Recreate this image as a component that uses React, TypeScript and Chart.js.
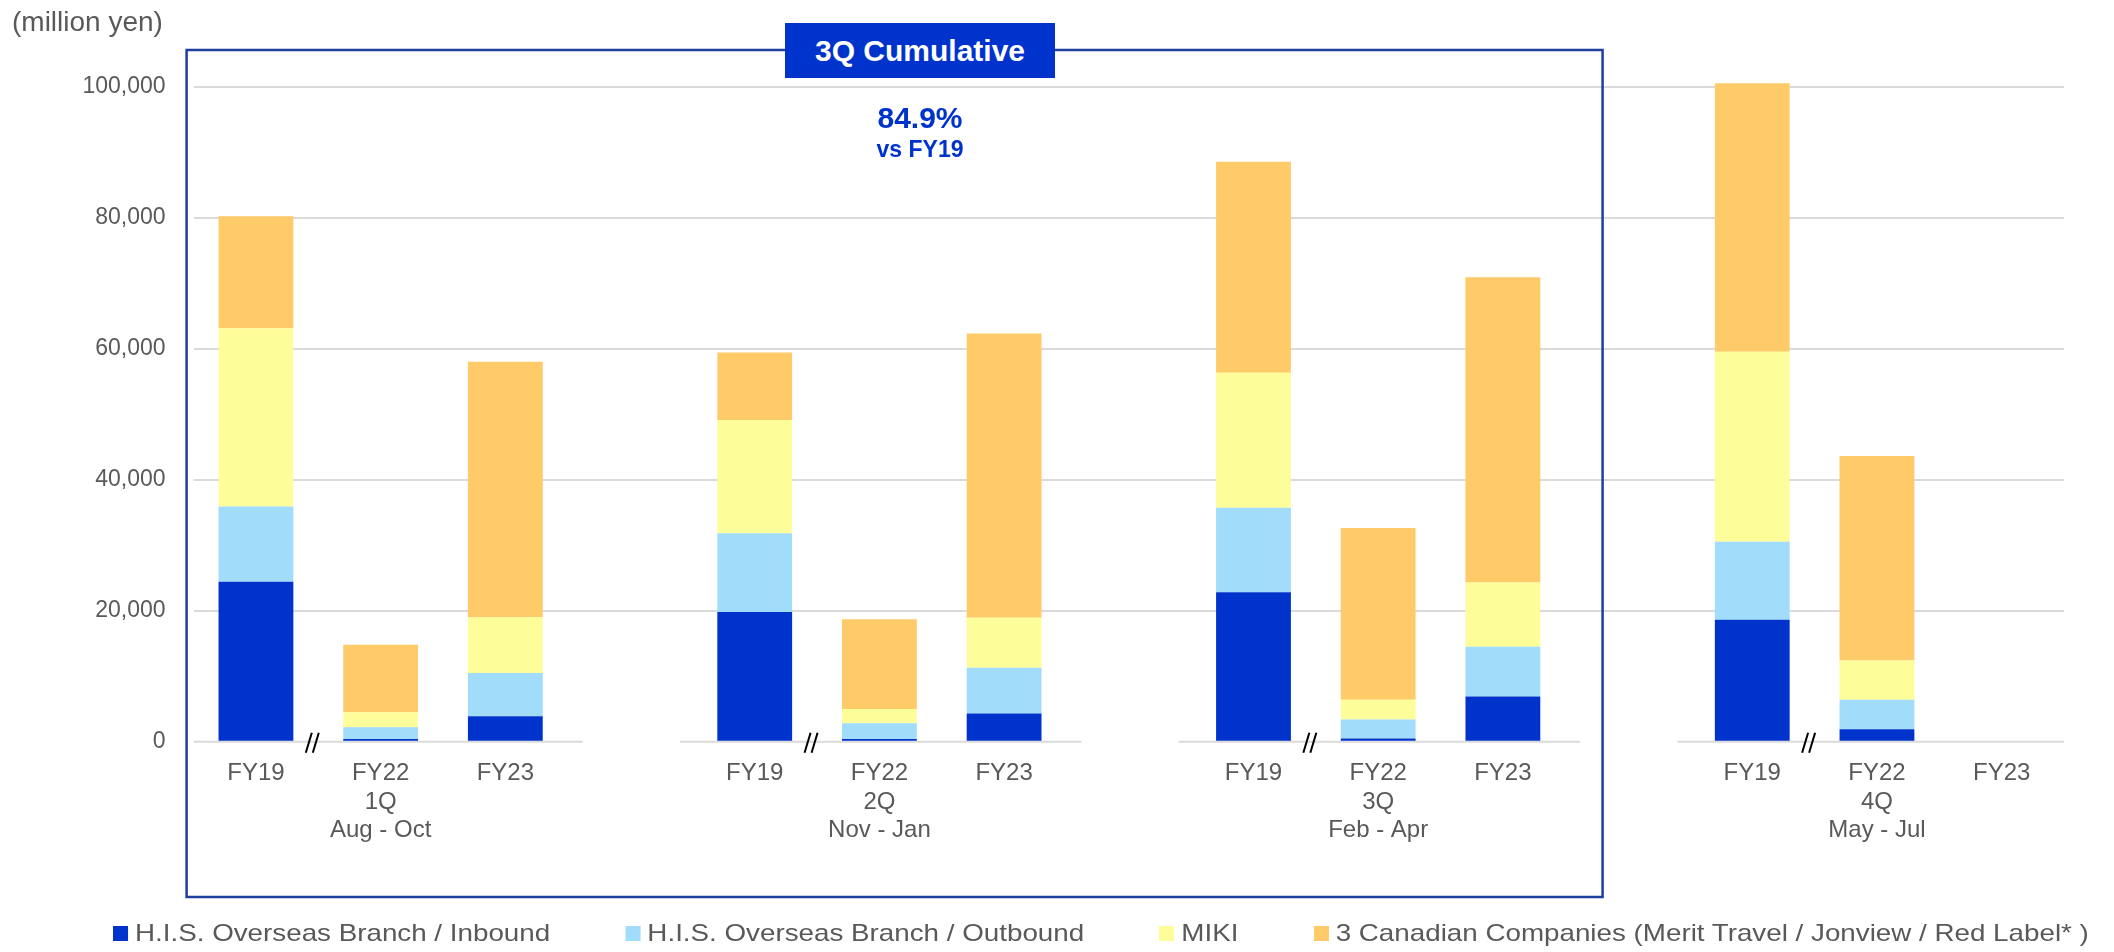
import React, { useEffect, useRef } from "react";
import { Chart, registerables } from "chart.js";

Chart.register(...registerables);

// ---------- data ----------
const categories: (string | string[])[] = [
  ["FY19"], ["FY22", "1Q", "Aug - Oct"], ["FY23"], "",
  ["FY19"], ["FY22", "2Q", "Nov - Jan"], ["FY23"], "",
  ["FY19"], ["FY22", "3Q", "Feb - Apr"], ["FY23"], "",
  ["FY19"], ["FY22", "4Q", "May - Jul"], ["FY23"],
];

const inbound = [24400, 400, 3900, null, 19800, 400, 4300, null, 22800, 500, 6900, null, 18600, 1900, null];
const outbound = [11500, 1800, 6600, null, 12000, 2400, 7000, null, 12900, 2900, 7600, null, 11900, 4500, null];
const miki = [27200, 2300, 8500, null, 17300, 2200, 7600, null, 20600, 3000, 9800, null, 29000, 6000, null];
const canadian = [17100, 10300, 39000, null, 10300, 13700, 43400, null, 32200, 26200, 46600, null, 41000, 31200, null];

const seriesNames = [
  "H.I.S. Overseas Branch / Inbound",
  "H.I.S. Overseas Branch / Outbound",
  "MIKI",
  "3 Canadian Companies (Merit Travel / Jonview / Red Label* )",
];
const seriesData = [inbound, outbound, miki, canadian];
const seriesColors = ["#0033CC", "#A1DCFB", "#FDFD99", "#FFCB69"];

const yTicks = [0, 20000, 40000, 60000, 80000, 100000];
const groupRanges = [[0, 2], [4, 6], [8, 10], [12, 14]];
const breakAfter = [0, 4, 8, 12];

const unitLabel = "(million yen)";
const boxTitle = "3Q Cumulative";
const ratioText = "84.9%";
const ratioSub = "vs FY19";

const FONT = "'Liberation Sans', Arial, Helvetica, sans-serif";
const TEXT_GRAY = "#595959";
const FRAME_BLUE = "#1F3F9F";
const BRAND_BLUE = "#0033CC";

const decorPlugin = {
  id: "decor",
  beforeDatasetsDraw(chart: any) {
    const { ctx, chartArea } = chart;
    const xs = chart.scales.x;
    const ys = chart.scales.y;
    const slot = xs.getPixelForValue(1) - xs.getPixelForValue(0);
    const y0 = ys.getPixelForValue(0);
    ctx.save();
    ctx.strokeStyle = "#DADADA";
    ctx.lineWidth = 2;
    groupRanges.forEach(([a, b], gi) => {
      let x0 = xs.getPixelForValue(a) - slot * 0.5 - (gi === 0 ? 0 : slot * 0.1);
      let x1 = xs.getPixelForValue(b) + slot * 0.5 + (gi === groupRanges.length - 1 ? 0 : slot * 0.12);
      x0 = Math.max(x0, chartArea.left);
      x1 = Math.min(x1, chartArea.right);
      ctx.beginPath();
      ctx.moveTo(x0, y0);
      ctx.lineTo(x1, y0);
      ctx.stroke();
    });
    ctx.restore();
  },
  afterDraw(chart: any) {
    const { ctx, chartArea } = chart;
    const xs = chart.scales.x;
    const ys = chart.scales.y;
    const y0 = ys.getPixelForValue(0);
    ctx.save();
    // frame around 3Q cumulative
    const left = chartArea.left - 7;
    const right = xs.getPixelForValue(11) - 25;
    const top = 50;
    const bottom = 897;
    ctx.strokeStyle = FRAME_BLUE;
    ctx.lineWidth = 2.5;
    ctx.strokeRect(left, top, right - left, bottom - top);
    // break marks
    ctx.strokeStyle = "#000000";
    ctx.lineWidth = 2;
    breakAfter.forEach((i) => {
      const cx = (xs.getPixelForValue(i) + xs.getPixelForValue(i + 1)) / 2 - 6;
      const cy = y0 + 1;
      [-3.5, 3.5].forEach((k) => {
        ctx.beginPath();
        ctx.moveTo(cx + k - 3, cy + 10);
        ctx.lineTo(cx + k + 3, cy - 10);
        ctx.stroke();
      });
    });
    ctx.restore();
  },
};

export default function App() {
  const canvasRef = useRef<HTMLCanvasElement | null>(null);

  useEffect(() => {
    if (!canvasRef.current) return;
    const chart = new Chart(canvasRef.current, {
      type: "bar",
      data: {
        labels: categories,
        datasets: seriesNames.map((name, i) => ({
          label: name,
          data: seriesData[i],
          backgroundColor: seriesColors[i],
          borderWidth: 0,
          barPercentage: 0.6,
          categoryPercentage: 1,
        })),
      },
      options: {
        responsive: false,
        animation: false,
        layout: { padding: { top: 21, right: 50, bottom: 0, left: 0 } },
        plugins: {
          legend: { display: false },
          tooltip: { enabled: false },
          title: { display: false },
        },
        scales: {
          x: {
            stacked: true,
            grid: { display: false, drawTicks: false },
            border: { display: false },
            ticks: {
              color: TEXT_GRAY,
              font: { family: FONT, size: 24, lineHeight: 1.2 },
              padding: 17,
              maxRotation: 0,
              autoSkip: false,
            },
            afterFit: (s: any) => {
              s.height = 210.3;
              s.paddingLeft = 0;
              s.paddingRight = 0;
            },
          },
          y: {
            stacked: true,
            min: 0,
            max: 110000,
            border: { display: false },
            grid: {
              color: (c: any) => (c.tick && c.tick.value === 0 ? "rgba(0,0,0,0)" : "#DADADA"),
              lineWidth: 2,
              drawTicks: false,
            },
            ticks: {
              padding: 28,
              color: TEXT_GRAY,
              font: { family: FONT, size: 23 },
              callback: (v: any) => Number(v).toLocaleString("en-US"),
            },
            afterBuildTicks: (s: any) => {
              s.ticks = yTicks.map((v) => ({ value: v }));
            },
            afterFit: (s: any) => {
              s.width = 193.6;
              s.paddingTop = 0;
              s.paddingBottom = 0;
            },
          },
        },
      },
      plugins: [decorPlugin],
    } as any);
    return () => chart.destroy();
  }, []);

  const legendItems = seriesNames.map((name, i) => (
    <div key={name} style={{ display: "flex", alignItems: "center", marginRight: i < seriesNames.length - 1 ? 65 : 0 }}>
      <span style={{ display: "inline-block", width: 13, height: 15, background: seriesColors[i], marginRight: 6 }} />
      <span style={{ whiteSpace: "nowrap" }}>{name}</span>
    </div>
  ));

  return (
    <div style={{ position: "absolute", left: 0, top: 0, width: 2114, height: 952, background: "#fff", fontFamily: FONT }}>
      <canvas ref={canvasRef} width={2114} height={952} style={{ position: "absolute", left: 0, top: 0, width: 2114, height: 952 }} />
      <div style={{ position: "absolute", left: 12, top: 8, fontSize: 28, lineHeight: "28px", color: TEXT_GRAY, whiteSpace: "nowrap" }}>
        {unitLabel}
      </div>
      <div
        style={{
          position: "absolute", left: 785, top: 23, width: 270, height: 55, background: BRAND_BLUE, color: "#fff",
          fontWeight: "bold", fontSize: 30, lineHeight: "55px", textAlign: "center", whiteSpace: "nowrap",
        }}
      >
        {boxTitle}
      </div>
      <div style={{ position: "absolute", left: 820, top: 103, width: 200, textAlign: "center", color: BRAND_BLUE, fontWeight: "bold", fontSize: 30, lineHeight: "30px" }}>
        {ratioText}
      </div>
      <div style={{ position: "absolute", left: 820, top: 138, width: 200, textAlign: "center", color: BRAND_BLUE, fontWeight: "bold", fontSize: 23, lineHeight: "23px" }}>
        {ratioSub}
      </div>
      <div
        style={{
          position: "absolute", left: 113, top: 921, height: 24, display: "flex", alignItems: "center",
          fontSize: 24, lineHeight: "24px", color: TEXT_GRAY, transform: "scaleX(1.157)", transformOrigin: "0 50%",
        }}
      >
        {legendItems}
      </div>
    </div>
  );
}
